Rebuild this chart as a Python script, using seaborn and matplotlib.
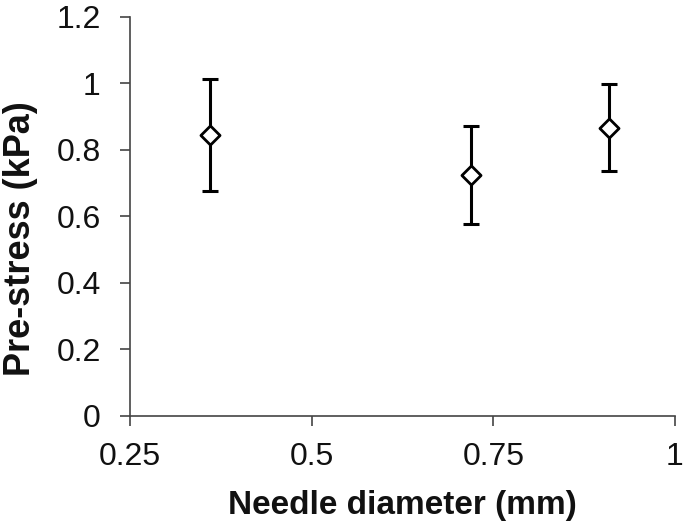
import matplotlib
matplotlib.use("Agg")
import matplotlib.pyplot as plt
import seaborn as sns
import pandas as pd

diameter = [0.36, 0.72, 0.91]
prestress = [0.844, 0.725, 0.867]
err = [0.168, 0.147, 0.13]
xticks = [0.25, 0.5, 0.75, 1]
yticks = [0, 0.2, 0.4, 0.6, 0.8, 1, 1.2]

sns.set_style("ticks")
plt.rcParams['font.family'] = ['Liberation Sans', 'DejaVu Sans']

df = pd.DataFrame({"d": diameter, "p": prestress, "e": err})

fig = plt.figure(figsize=(6.84, 5.24), dpi=100)
ax = fig.add_axes([0.1905, 0.207, 0.796, 0.7606])

ax.errorbar(df["d"], df["p"], yerr=df["e"], fmt="none", ecolor="black",
            elinewidth=2.2, capsize=6, capthick=2.2, zorder=2)
sns.scatterplot(data=df, x="d", y="p", marker="D", s=95, facecolor="white",
                edgecolor="black", linewidth=2, ax=ax, zorder=3)

ax.set_xlim(0.25, 1)
ax.set_ylim(0, 1.2)
ax.set_xticks(xticks)
ax.set_xticklabels([f"{t:g}" for t in xticks])
ax.set_yticks(yticks)
ax.set_yticklabels([f"{t:g}" for t in yticks])
ax.tick_params(axis="both", labelsize=23, length=7.2, width=1.2, color="#444444",
               labelcolor="#111111", direction="out")
ax.tick_params(axis="x", pad=12)
ax.tick_params(axis="y", pad=14)
for s in ["top", "right"]:
    ax.spines[s].set_visible(False)
for s in ["left", "bottom"]:
    ax.spines[s].set_color("#444444")
    ax.spines[s].set_linewidth(1.2)
ax.set_xlabel("Needle diameter (mm)", fontsize=24, fontweight="bold", labelpad=13,
              color="#111111")
ax.set_ylabel("Pre-stress (kPa)", fontsize=26, fontweight="bold",
              color="#111111")
ax.yaxis.set_label_coords(-0.17, 0.445)

fig.savefig("out.png", dpi=100)
